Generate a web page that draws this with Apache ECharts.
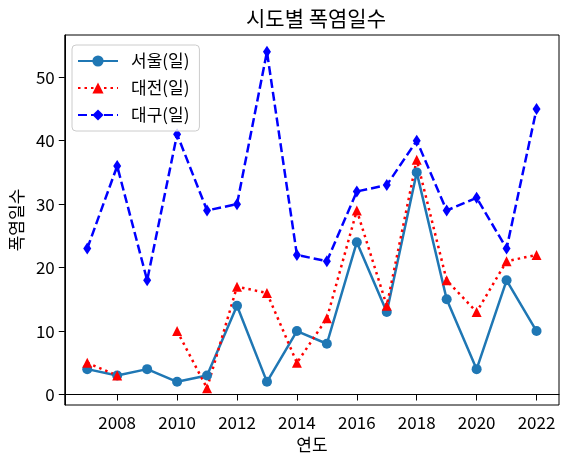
<!DOCTYPE html>
<html>
<head>
<meta charset="utf-8">
<script src="https://cdn.jsdelivr.net/npm/echarts@6/dist/echarts.min.js"></script>
<style>
    html, body { margin: 0; padding: 0; background: #fff; }
    #chart { width: 569px; height: 466px; }
</style>
</head>
<body>
<div id="chart"></div>
<script>
//연도별 폭염일수
var years = [2007, 2008, 2009, 2010, 2011, 2012, 2013, 2014, 2015, 2016, 2017, 2018, 2019, 2020, 2021, 2022];
var seoul = [4, 3, 4, 2, 3, 14, 2, 10, 8, 24, 13, 35, 15, 4, 18, 10];
var daejeon = [5, 3, null, 10, 1, 17, 16, 5, 12, 29, 14, 37, 18, 13, 21, 22];
var daegu = [23, 36, 18, 41, 29, 30, 54, 22, 21, 32, 33, 40, 29, 31, 23, 45];
var xTicks = [2008, 2010, 2012, 2014, 2016, 2018, 2020, 2022];
var yTicks = [0, 10, 20, 30, 40, 50];

var font = "Noto Sans CJK KR";

function pairs(vals) {
    var out = [];
    for (var i = 0; i < years.length; i++) {
        out.push([years[i], vals[i]]);
    }
    return out;
}

var myChart = echarts.init(document.getElementById('chart'));

var option = {
    animation: false,
    backgroundColor: '#fff',
    title: {
        text: '시도별 폭염일수',
        left: 311,
        top: 3,
        textAlign: 'center',
        textStyle: {
            color: '#000',
            fontFamily: font,
            fontWeight: 'normal',
            fontSize: 21
        }
    },
    legend: {
        left: 72,
        top: 45,
        orient: 'vertical',
        itemWidth: 40,
        itemHeight: 14,
        itemGap: 9,
        padding: [7, 10, 7, 5],
        backgroundColor: 'rgba(255,255,255,0.8)',
        borderColor: '#cccccc',
        borderWidth: 1,
        borderRadius: 4,
        textStyle: {
            color: '#000',
            fontFamily: font,
            fontSize: 17,
            lineHeight: 18,
            padding: [0, 0, 0, 8]
        },
        data: ['서울(일)', '대전(일)', '대구(일)']
    },
    grid: {
        left: 63,
        right: 10,
        top: 35,
        bottom: 61,
        show: true,
        borderColor: '#000',
        borderWidth: 1,
        containLabel: false
    },
    xAxis: {
        type: 'value',
        min: 2006.25,
        max: 2022.75,
        name: '연도',
        nameLocation: 'middle',
        nameGap: 28,
        nameTextStyle: {
            color: '#000',
            fontFamily: font,
            fontSize: 17
        },
        axisLine: { show: true, lineStyle: { color: '#000', width: 1 } },
        axisTick: {
            show: true,
            length: 6,
            customValues: xTicks,
            lineStyle: { color: '#000' }
        },
        axisLabel: {
            customValues: xTicks,
            formatter: function (v) { return String(v); },
            margin: 9,
            color: '#000',
            fontFamily: font,
            fontSize: 17
        },
        splitLine: { show: false }
    },
    yAxis: {
        type: 'value',
        min: -1.65,
        max: 56.65,
        name: '폭염일수',
        nameLocation: 'middle',
        nameGap: 38,
        nameRotate: 90,
        nameTextStyle: {
            color: '#000',
            fontFamily: font,
            fontSize: 17
        },
        axisLine: { show: true, lineStyle: { color: '#000', width: 1 } },
        axisTick: {
            show: true,
            length: 6,
            customValues: yTicks,
            lineStyle: { color: '#000' }
        },
        axisLabel: {
            customValues: yTicks,
            margin: 10,
            color: '#000',
            fontFamily: font,
            fontSize: 17
        },
        splitLine: { show: false }
    },
    series: [
        {
            name: '서울(일)',
            type: 'line',
            data: pairs(seoul),
            symbol: 'circle',
            symbolSize: 10,
            color: '#1f77b4',
            lineStyle: { width: 2.5, color: '#1f77b4' },
            itemStyle: { color: '#1f77b4' }
        },
        {
            name: '대전(일)',
            type: 'line',
            data: pairs(daejeon),
            connectNulls: false,
            symbol: 'triangle',
            symbolSize: 10,
            color: '#ff0000',
            lineStyle: { width: 2.5, color: '#ff0000', type: [2.5, 4] },
            itemStyle: { color: '#ff0000' }
        },
        {
            name: '대구(일)',
            type: 'line',
            data: pairs(daegu),
            symbol: 'diamond',
            symbolSize: [8, 12],
            color: '#0000ff',
            lineStyle: { width: 2.5, color: '#0000ff', type: [9, 4] },
            itemStyle: { color: '#0000ff' }
        }
    ]
};

myChart.setOption(option);
</script>
</body>
</html>
